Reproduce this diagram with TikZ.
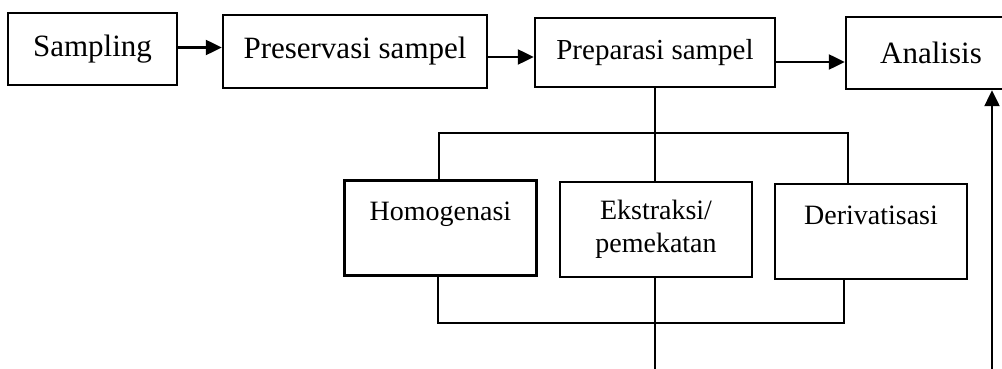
\documentclass[tikz,border=0pt]{standalone}
\usepackage{fontspec}
\setmainfont{Liberation Serif}
\usepackage{tikz}
\usetikzlibrary{arrows.meta,positioning}

\begin{document}
\begin{tikzpicture}[x=0.5pt,y=-0.5pt]
\tikzstyle{kotak}=[draw,rectangle,line width=1.25pt,inner sep=0pt,align=center]
\tikzstyle{atas}=[kotak,font=\fontsize{15.5}{18}\selectfont]
\tikzstyle{bawah}=[kotak,font=\fontsize{14}{16.5}\selectfont,minimum width=96pt,minimum height=47.5pt]
\tikzstyle{garis}=[line width=1.25pt]
\tikzstyle{panah}=[garis,-{Triangle[length=8pt,width=7.5pt]}]
\useasboundingbox (0,0) rectangle (1002,369);
% baris atas
\node[atas,minimum width=84.5pt,minimum height=36pt] (sampling) at (92.5,49) {Sampling};
\node[atas,minimum width=132pt,minimum height=36.5pt] (preservasi) at (355,51.5) {Preservasi sampel};
\node[atas,minimum width=120pt,minimum height=34.5pt,font=\fontsize{14.5}{17}\selectfont] (preparasi) at (655,52.5) {Preparasi sampel};
\node[atas,minimum width=85pt,minimum height=36pt] (analisis) at (931,53) {Analisis};
% baris bawah
\node[bawah] (homogenasi) at (440.5,228) {Homogenasi\\~};
\node[bawah] (ekstraksi) at (656,229.5) {Ekstraksi/\\pemekatan};
\node[bawah] (derivatisasi) at (871,231.5) {Derivatisasi\\~};
\draw[panah] ([yshift=0.75pt]sampling.east) -- ([yshift=0.75pt]sampling.east -| preservasi.west);
\draw[panah] ([yshift=-2.75pt]preservasi.east) -- ([yshift=-2.75pt]preservasi.east -| preparasi.west);
\draw[panah] ([yshift=-4.75pt]preparasi.east) -- ([yshift=-4.75pt]preparasi.east -| analisis.west);
% percabangan
\coordinate (busL) at (439,133);
\coordinate (busR) at (848,133);
\coordinate (lowL) at (438,323);
\coordinate (lowR) at (844,323);
\coordinate (keluar) at (655,369);
\coordinate (balik) at (992,369);
\draw[garis] (preparasi.south) -- (preparasi.south |- ekstraksi.north);
\draw[garis] (homogenasi.north -| busL) -- (busL) -- (busR) -- (derivatisasi.north -| busR);
\draw[garis] (homogenasi.south -| lowL) -- (lowL) -- (lowR) -- (derivatisasi.south -| lowR);
\draw[garis] (ekstraksi.south -| keluar) -- (keluar);
\draw[panah] (balik) -- (balik |- analisis.south);
\end{tikzpicture}
\end{document}
